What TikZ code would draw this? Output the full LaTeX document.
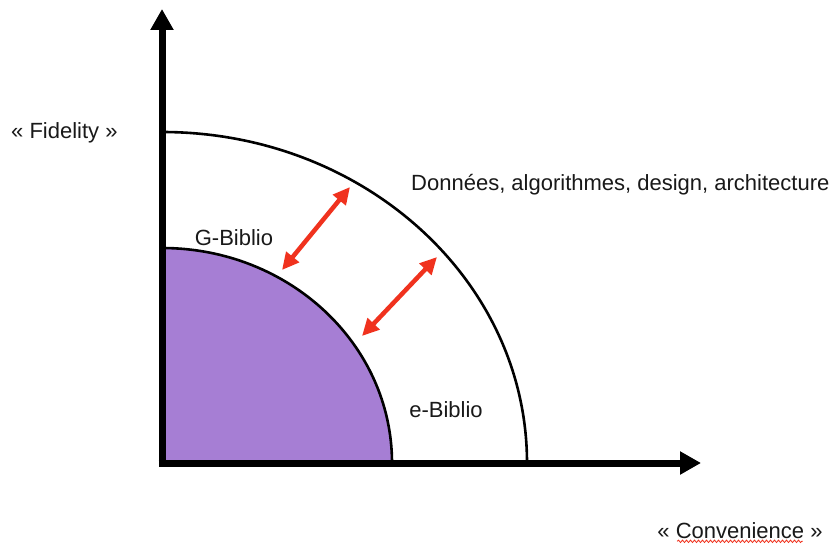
\documentclass[tikz,border=0pt]{standalone}
\usepackage{fontspec}
\setmainfont{Liberation Sans}
\usetikzlibrary{arrows.meta,decorations.pathmorphing}
\definecolor{biblioPurple}{RGB}{166,126,212}
\definecolor{arrowRed}{RGB}{240,50,30}
\tikzset{
  axis/.style={line width=7pt,-{Triangle[length=21pt,width=22pt]}},
  arcline/.style={line width=2.6pt},
  redarrow/.style={arrowRed,line width=4.5pt,{Triangle[length=17pt,width=16pt]}-{Triangle[length=17pt,width=16pt]}},
  lbl/.style={inner sep=0pt,text=black!90,font=\fontsize{22}{26}\selectfont}
}
\begin{document}
\begin{tikzpicture}[x=1pt,y=1pt]
\useasboundingbox (0,0) rectangle (834,547);
\fill[white] (0,0) rectangle (834,547);
\coordinate (O) at (162,84);
\coordinate (ytop) at (162,538);
\coordinate (xend) at (701,84);
% outer arc
\draw[arcline] (527,84) arc[start angle=0,end angle=90,x radius=365,y radius=331];
% inner filled quarter
\fill[biblioPurple] (O) -- (392,84) arc[start angle=0,end angle=90,x radius=230,y radius=215] -- cycle;
\draw[arcline] (392,84) arc[start angle=0,end angle=90,x radius=230,y radius=215];
% axes
\draw[axis] ([yshift=-3.5pt]O) -- (ytop);
\draw[axis] ([xshift=-3.5pt]O) -- (xend);
% red arrows
\coordinate (a1s) at (282,277);
\coordinate (a1e) at (350,360);
\coordinate (a2s) at (362,211);
\coordinate (a2e) at (437,290);
\draw[redarrow] (a1s) -- (a1e);
\draw[redarrow] (a2s) -- (a2e);
% labels
\node[lbl,anchor=west] (fid) at (11,414) {« Fidelity »};
\node[lbl,anchor=west] (don) at (411,362) {Données, algorithmes, design, architecture};
\node[lbl] (gb) at (234,309) {G-Biblio};
\node[lbl] (eb) at (446,137) {e-Biblio};
\node[lbl] (conv) at (740,16) {« Convenience »};
\draw[arrowRed,line width=0.8pt,decorate,decoration={snake,amplitude=1.2pt,segment length=4pt}]
  ([xshift=20pt,yshift=-2pt]conv.south west) -- ([xshift=-20pt,yshift=-2pt]conv.south east);
\end{tikzpicture}
\end{document}
